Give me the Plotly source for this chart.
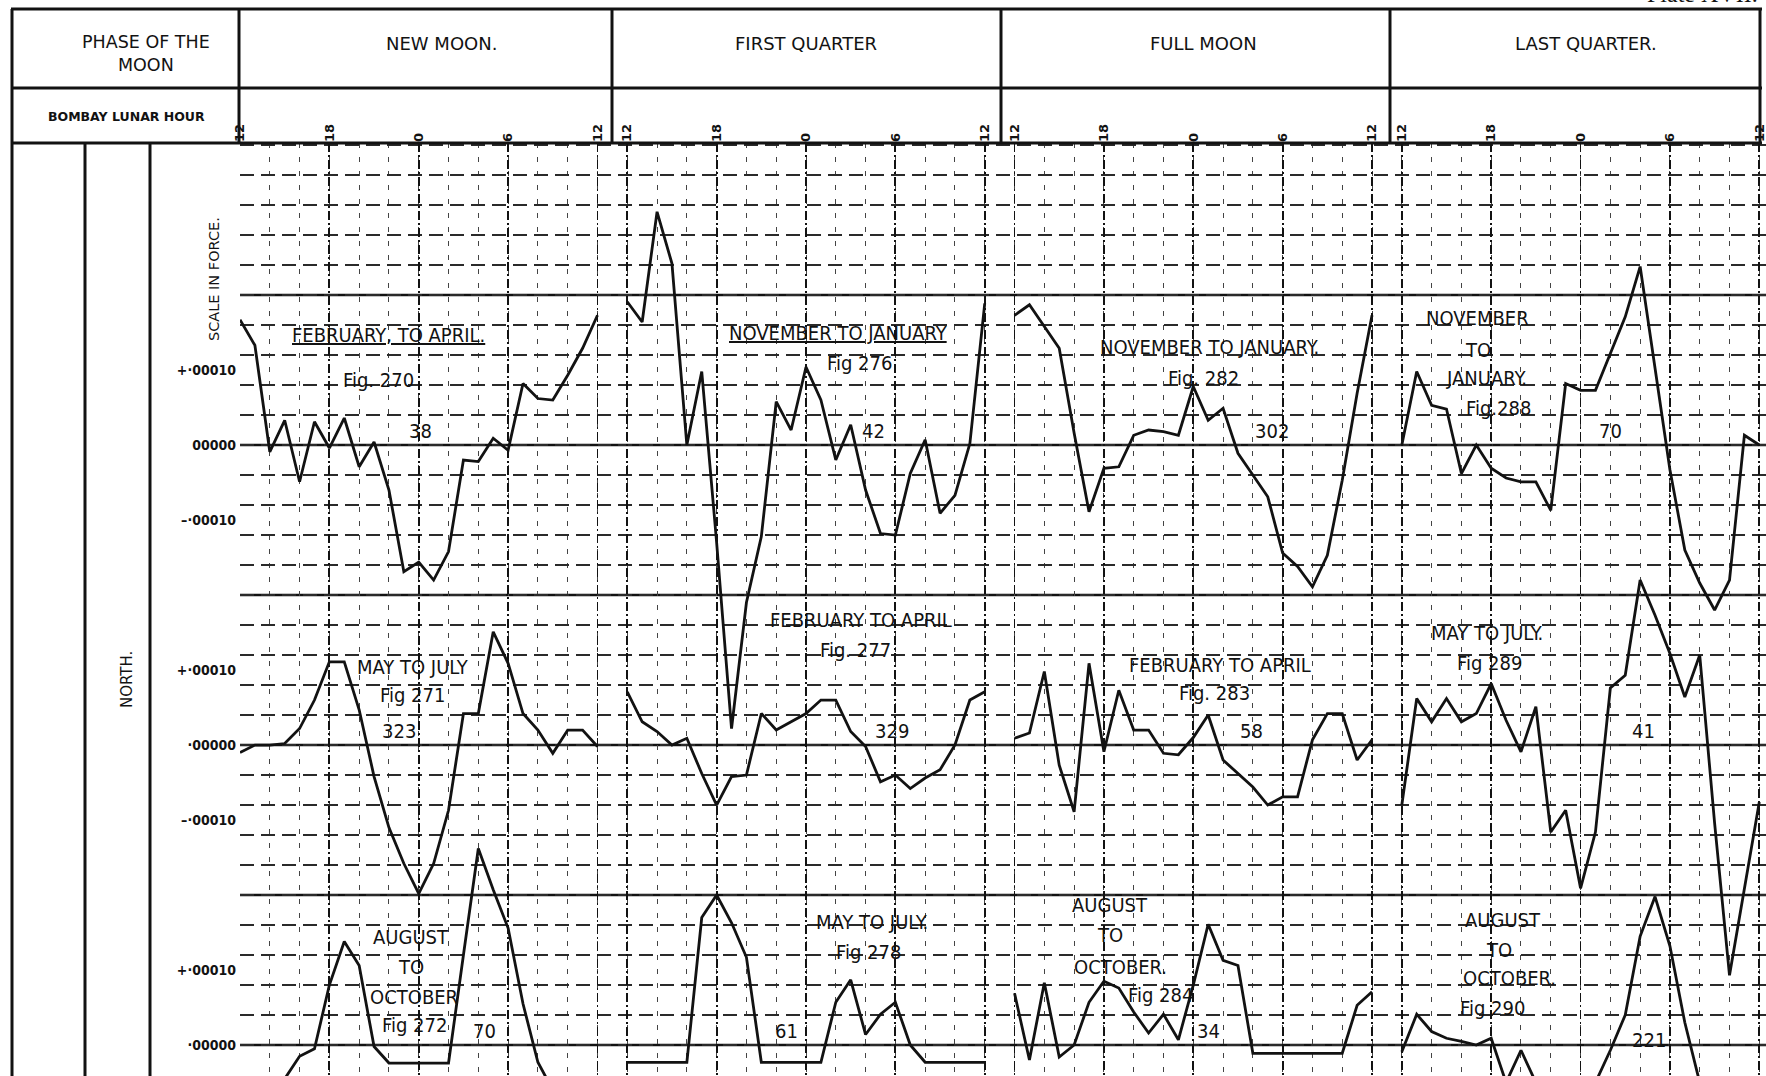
import plotly.graph_objects as go

# ---------------- data (values in units of 0.00001 of force) ----------------
hours = list(range(12, 37))            # 12 -> 18 -> 0 -> 6 -> 12 (Bombay lunar hour)
tick_hours = [12, 18, 24, 30, 36]
tick_text = ["12", "18", "0", "6", "12"]
phase_names = ["NEW MOON.", "FIRST QUARTER", "FULL MOON", "LAST QUARTER."]

# New Moon
fig270 = [16.7, 13.3, -0.9, 3.3, -4.9, 3.1, -0.4, 3.6, -2.9, 0.4, -6.0, -16.9, -15.6,
          -18.0, -14.2, -2.0, -2.2, 0.9, -0.7, 8.2, 6.2, 6.0, 9.3, 12.9, 17.3]
fig271 = [-1.0, 0.0, 0.0, 0.2, 2.2, 6.0, 11.1, 11.1, 4.7, -4.2, -11.0, -15.8, -19.8,
          -15.8, -8.7, 4.2, 4.2, 15.1, 10.9, 4.2, 2.0, -1.1, 2.0, 2.0, -0.2]
fig272 = [-5.0, -5.0, -4.5, -4.5, -1.5, -0.5, 8.0, 13.8, 10.6, -0.2, -2.4, -2.4, -2.4,
          -2.4, -2.4, 12.0, 26.2, 20.7, 15.6, 5.5, -2.3, -6.0, -5.0, -5.0, -5.0]
# First Quarter
fig276 = [19.1, 16.4, 31.1, 24.2, 0.0, 9.8, -13.0, -37.8, -21.0, -12.2, 5.8, 2.0, 10.4,
          6.0, -2.0, 2.7, -6.0, -11.8, -12.0, -3.8, 0.7, -9.1, -6.7, 0.2, 18.9]
fig277 = [7.1, 3.1, 1.8, 0.0, 0.9, -3.8, -8.0, -4.2, -4.0, 4.2, 2.0, 3.1, 4.2,
          6.0, 6.0, 1.8, -0.2, -4.9, -4.0, -5.8, -4.4, -3.3, 0.0, 6.0, 7.1]
fig278 = [-2.3, -2.3, -2.3, -2.3, -2.3, 17.0, 20.0, 16.3, 11.7, -2.3, -2.3, -2.3, -2.3,
          -2.3, 5.7, 8.7, 1.4, 4.1, 5.7, 0.0, -2.3, -2.3, -2.3, -2.3, -2.3]
# Full Moon
fig282 = [17.3, 18.7, 15.8, 12.9, 1.6, -8.9, -3.1, -2.9, 1.3, 2.0, 1.8, 1.3, 7.8,
          3.3, 4.9, -1.1, -4.0, -6.9, -14.4, -16.2, -18.9, -14.7, -4.7, 6.9, 17.3]
fig283 = [0.9, 1.6, 9.8, -2.7, -8.9, 10.9, -0.9, 7.3, 2.0, 2.0, -1.1, -1.3, 1.0,
          4.0, -2.0, -3.8, -5.6, -8.0, -6.9, -6.9, 0.7, 4.2, 4.2, -2.0, 0.7]
fig284 = [6.9, -2.0, 8.3, -1.6, 0.0, 5.7, 8.5, 7.6, 4.4, 1.6, 4.1, 0.7, 8.0,
          16.1, 11.3, 10.6, -1.1, -1.1, -1.1, -1.1, -1.1, -1.1, -1.1, 5.3, 7.1]
# Last Quarter
fig288 = [0.0, 9.8, 5.3, 4.8, -3.8, 0.0, -3.1, -4.4, -4.9, -4.9, -8.7, 8.2, 7.3,
          7.3, 12.2, 17.1, 23.8, 10.0, -3.3, -14.0, -18.4, -22.0, -18.0, 1.3, 0.0]
fig289 = [-8.0, 6.2, 3.1, 6.2, 3.1, 4.2, 8.2, 3.3, -0.9, 5.1, -11.6, -8.7, -19.1,
          -11.6, 7.6, 9.3, 22.0, 17.3, 12.2, 6.4, 12.0, -10.4, -30.7, -18.9, -7.6]
fig290 = [-0.9, 4.1, 1.8, 0.9, 0.5, 0.0, 0.9, -5.0, -0.7, -5.0, -5.0, -5.0, -5.0,
          -5.0, -0.7, 4.0, 14.5, 19.8, 13.2, 3.0, -5.0, -6.0, -6.0, -6.0, -6.0]

series = [[fig270, fig271, fig272],
          [fig276, fig277, fig278],
          [fig282, fig283, fig284],
          [fig288, fig289, fig290]]

y_tick_vals = [10, 0, -10]
y_tick_text = [["+·00010", "00000", "–·00010"],
               ["+·00010", "·00000", "–·00010"],
               ["+·00010", "·00000", None]]

# panel captions: (phase, row, hour, value, text, underlined, anchor)
captions = [
    (0, 0, 22.0, 14.7, "FEBRUARY, TO APRIL.", True, "middle"),
    (0, 0, 21.3, 8.7, "Fig. 270", False, "middle"),
    (0, 0, 24.1, 0.0, "38", False, "bottom"),
    (1, 0, 26.2, 14.9, "NOVEMBER TO JANUARY", True, "middle"),
    (1, 0, 27.6, 10.9, "Fig 276", False, "middle"),
    (1, 0, 28.5, 0.0, "42", False, "bottom"),
    (2, 0, 25.1, 13.1, "NOVEMBER TO JANUARY.", False, "middle"),
    (2, 0, 24.7, 8.9, "Fig. 282", False, "middle"),
    (2, 0, 29.3, 0.0, "302", False, "bottom"),
    (3, 0, 17.1, 16.9, "NOVEMBER", False, "middle"),
    (3, 0, 17.1, 12.7, "TO", False, "middle"),
    (3, 0, 17.7, 8.9, "JANUARY.", False, "middle"),
    (3, 0, 18.5, 4.9, "Fig.288", False, "middle"),
    (3, 0, 26.0, 0.0, "70", False, "bottom"),
    (0, 1, 23.6, 10.4, "MAY TO JULY", False, "middle"),
    (0, 1, 23.6, 6.7, "Fig 271", False, "middle"),
    (0, 1, 22.7, 0.0, "323", False, "bottom"),
    (1, 1, 27.7, 16.7, "FEBRUARY TO APRIL", False, "middle"),
    (1, 1, 27.3, 12.7, "Fig. 277", False, "middle"),
    (1, 1, 29.8, 0.0, "329", False, "bottom"),
    (2, 1, 25.8, 10.7, "FEBRUARY TO APRIL", False, "middle"),
    (2, 1, 25.4, 7.0, "Fig. 283", False, "middle"),
    (2, 1, 27.9, 0.0, "58", False, "bottom"),
    (3, 1, 17.7, 15.0, "MAY TO JULY.", False, "middle"),
    (3, 1, 17.9, 11.0, "Fig 289", False, "middle"),
    (3, 1, 28.2, 0.0, "41", False, "bottom"),
    (0, 2, 23.5, 14.4, "AUGUST", False, "middle"),
    (0, 2, 23.5, 10.4, "TO", False, "middle"),
    (0, 2, 23.7, 6.4, "OCTOBER", False, "middle"),
    (0, 2, 23.7, 2.7, "Fig 272", False, "middle"),
    (0, 2, 28.4, 0.0, "70", False, "bottom"),
    (1, 2, 28.4, 16.4, "MAY TO JULY.", False, "middle"),
    (1, 2, 28.2, 12.4, "Fig 278", False, "middle"),
    (1, 2, 22.7, 0.0, "61", False, "bottom"),
    (2, 2, 18.4, 18.7, "AUGUST", False, "middle"),
    (2, 2, 18.4, 14.7, "TO", False, "middle"),
    (2, 2, 19.1, 10.4, "OCTOBER.", False, "middle"),
    (2, 2, 21.8, 6.7, "Fig 284", False, "middle"),
    (2, 2, 25.0, 0.0, "34", False, "bottom"),
    (3, 2, 18.8, 16.7, "AUGUST", False, "middle"),
    (3, 2, 18.5, 12.7, "TO", False, "middle"),
    (3, 2, 19.2, 8.9, "OCTOBER.", False, "middle"),
    (3, 2, 18.1, 4.9, "Fig 290", False, "middle"),
    (3, 2, 28.6, 2.5, "221", False, "top"),
]

# ---------------- layout constants ----------------
W, H = 1766, 1076
L, T = 240, 143                      # plot area left / top in pixels
PHASE_SPAN = 26                      # hours per phase column incl. gap
ROW_STEP = 40                        # vertical distance between panel zero lines
X_RANGE = [12, 114.45]
Y_RANGE = [-84.13, 40.27]
INK = "#121212"
LABEL_FONT = "DejaVu Sans Condensed, Liberation Sans Narrow, DejaVu Sans, sans-serif"
HEAD_FONT = "DejaVu Sans, Verdana, sans-serif"


def paper(xp, yp):
    return (xp - L) / (W - L), (H - yp) / (H - T)


fig = go.Figure()

for p, col in enumerate(series):
    for r, vals in enumerate(col):
        fig.add_trace(go.Scatter(
            x=[PHASE_SPAN * p + h for h in hours],
            y=[v - ROW_STEP * r for v in vals],
            mode="lines",
            line=dict(color=INK, width=2.8),
            hoverinfo="skip",
            showlegend=False,
        ))

xt_vals = [PHASE_SPAN * p + h for p in range(4) for h in tick_hours]
xt_text = tick_text * 4
yt_vals, yt_text = [], []
for r in range(3):
    for v, t in zip(y_tick_vals, y_tick_text[r]):
        if t is not None:
            yt_vals.append(v - ROW_STEP * r)
            yt_text.append(t)

shapes = []


def pline(x0, y0, x1, y1, w=3.0, color=INK):
    a = paper(x0, y0)
    b = paper(x1, y1)
    shapes.append(dict(type="line", xref="paper", yref="paper", x0=a[0], y0=a[1],
                       x1=b[0], y1=b[1], line=dict(color=color, width=w), layer="above"))


# header table
pline(11, 9, 1762, 9)
pline(11, 88, 1762, 88)
pline(11, 143, 1762, 143)
pline(12, 9, 12, 1076)
pline(239, 9, 239, 143)
for xd in (612, 1001, 1390):
    pline(xd, 9, xd, 143)
pline(1760, 9, 1760, 143)
# body left columns
pline(85, 143, 85, 1076)
pline(150, 143, 150, 1076)

# zero lines and panel separators across the body
for r in range(3):
    shapes.append(dict(type="line", xref="paper", yref="y", x0=0, x1=1,
                       y0=-ROW_STEP * r, y1=-ROW_STEP * r,
                       line=dict(color=INK, width=2.4), layer="below"))
    yb = ROW_STEP / 2 - ROW_STEP * r
    shapes.append(dict(type="line", xref="paper", yref="y", x0=0, x1=1,
                       y0=yb, y1=yb, line=dict(color=INK, width=2.6), layer="below"))

annotations = []


def ptext(xp, yp, text, size, family=HEAD_FONT, angle=0, xanchor="center",
          yanchor="middle", weight="normal"):
    a = paper(xp, yp)
    annotations.append(dict(xref="paper", yref="paper", x=a[0], y=a[1], text=text,
                            showarrow=False, textangle=angle, xanchor=xanchor, yanchor=yanchor,
                            font=dict(family=family, size=size, color=INK, weight=weight)))


ptext(146, 53, "PHASE OF THE<br>MOON", 17.5)
for name, xc in zip(phase_names, (441, 806, 1203, 1586)):
    ptext(xc, 43, name, 18)
ptext(126, 117, "BOMBAY LUNAR HOUR", 12.5, weight="bold")
ptext(214, 279, "SCALE IN FORCE.", 14.5, angle=-90)
ptext(127, 680, "NORTH.", 15, angle=-90)
ptext(1760, 9, "Plate XVII.", 24, family="Liberation Serif, DejaVu Serif, serif",
      xanchor="right", yanchor="bottom")

for p, r, h, v, txt, und, anc in captions:
    annotations.append(dict(
        xref="x", yref="y", x=PHASE_SPAN * p + h, y=v - ROW_STEP * r,
        text=f"<u>{txt}</u>" if und else txt, showarrow=False,
        xanchor="center", yanchor=anc,
        font=dict(family=LABEL_FONT, size=20, color=INK)))

fig.update_layout(
    width=W, height=H,
    margin=dict(l=L, r=0, t=T, b=0, autoexpand=False),
    paper_bgcolor="white", plot_bgcolor="white",
    showlegend=False,
    shapes=shapes,
    annotations=annotations,
    xaxis=dict(
        range=X_RANGE, side="top", tickmode="array", tickvals=xt_vals, ticktext=xt_text,
        tickangle=-90, tickfont=dict(family="DejaVu Sans, sans-serif", size=13, color=INK,
                                     weight="bold"),
        ticks="", showline=False, zeroline=False, automargin=False,
        ticklabeloverflow="allow",
        showgrid=True, gridcolor=INK, gridwidth=1.8, griddash="9px,3px,2px,3px",
        minor=dict(tickmode="linear", tick0=12, dtick=2, showgrid=True,
                   gridcolor="#444444", gridwidth=1, griddash="5px,9px"),
        fixedrange=True,
    ),
    yaxis=dict(
        range=Y_RANGE, tickmode="array", tickvals=yt_vals, ticktext=yt_text,
        tickfont=dict(family="DejaVu Sans Condensed, DejaVu Sans, sans-serif", size=14,
                      color=INK, weight="bold"),
        ticks="", showline=False, zeroline=False, showgrid=False, automargin=False,
        ticklabelstandoff=3,
        minor=dict(tickmode="linear", tick0=0, dtick=4, showgrid=True,
                   gridcolor="#2a2a2a", gridwidth=1.2, griddash="14px,7px"),
        fixedrange=True,
    ),
)

fig.write_html("out.html",
               config={"displayModeBar": False, "staticPlot": True},
               post_script="document.body.style.margin='0px';"
                           "document.body.style.overflow='hidden';")
